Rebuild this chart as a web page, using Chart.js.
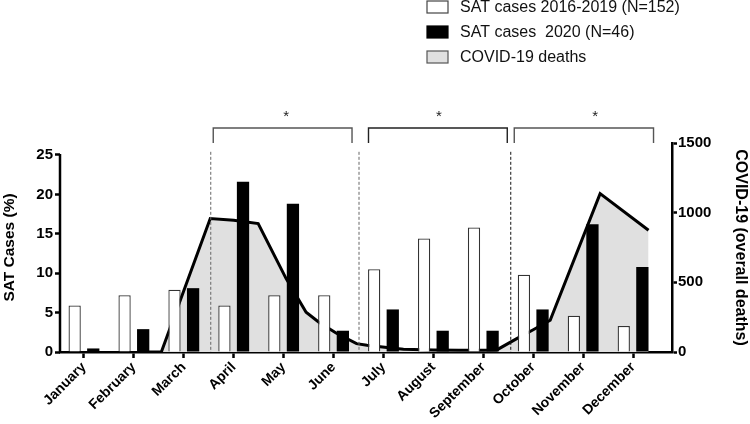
<!DOCTYPE html>
<html>
<head>
<meta charset="utf-8">
<script src="https://cdn.jsdelivr.net/npm/chart.js@4.4.1/dist/chart.umd.min.js"></script>
<style>
  html, body { margin: 0; padding: 0; background: #fff; }
  #wrap { width: 750px; height: 424px; }
</style>
</head>
<body>
<div id="wrap"><canvas id="chartSat" width="750" height="424"></canvas></div>
<script>
/* datos */
const months = ["January", "February", "March", "April", "May", "June",
  "July", "August", "September", "October", "November", "December"];
const satPrevious = [5.9, 7.2, 7.9, 5.9, 7.2, 7.2, 10.5, 14.4, 15.8, 9.8, 4.6, 3.3];
const sat2020 = [0.45, 2.9, 8.1, 21.6, 18.8, 2.7, 5.4, 2.7, 2.7, 5.4, 16.2, 10.8];

// muertes COVID-19: posicion en meses (0 = enero) y total
const deathsMonth = [1.3, 1.55, 2.53, 3.0, 3.49, 4.05, 4.45, 4.7, 5.05, 5.46, 5.67, 6.07, 6.4, 7.0, 7.5, 8.0, 8.27, 8.67, 9.0, 9.34, 10.34, 11.31];
const deathsTotal = [0, 0, 958, 945, 922, 527, 285, 215, 136, 60, 48, 32, 19, 15, 12, 12, 15, 96, 160, 228, 1137, 874];

const leftTicks = [0, 5, 10, 15, 20, 25];
const rightTicks = [0, 500, 1000, 1500];

// corchetes de comparacion (*) y lineas divisorias, en meses
const bracketFrom = [2.59, 5.70, 8.62];
const bracketTo = [5.37, 8.48, 11.41];
const bracketStar = [4.05, 7.11, 10.24];
const dividers = [2.54, 5.51, 8.55];

const FONT = "'Liberation Sans', Arial, sans-serif";
Chart.defaults.font.family = FONT;
Chart.defaults.color = "#000";

const extras = {
  id: "extras",
  afterDraw(chart) {
    const { ctx, chartArea } = chart;
    const x = chart.scales.x;
    const y = chart.scales.y;
    ctx.save();

    // eje izquierdo solo hasta 25
    ctx.strokeStyle = "#000";
    ctx.lineWidth = 2.5;
    ctx.beginPath();
    ctx.moveTo(chartArea.left, y.getPixelForValue(0));
    ctx.lineTo(chartArea.left, y.getPixelForValue(25) - 1);
    ctx.stroke();

    // lineas divisorias
    ctx.lineWidth = 1;
    ctx.setLineDash([3, 2]);
    dividers.forEach((d, i) => {
      ctx.strokeStyle = i === 2 ? "#111" : "#666";
      const px = x.getPixelForValue(d);
      ctx.beginPath();
      ctx.moveTo(px, y.getPixelForValue(25.4));
      ctx.lineTo(px, y.getPixelForValue(0));
      ctx.stroke();
    });
    ctx.setLineDash([]);

    // corchetes
    const top = chartArea.top - 15;
    ctx.lineWidth = 1.4;
    bracketFrom.forEach((b, i) => {
      const x0 = x.getPixelForValue(b);
      const x1 = x.getPixelForValue(bracketTo[i]);
      ctx.strokeStyle = i === 1 ? "#222" : "#555";
      ctx.beginPath();
      ctx.moveTo(x0, chartArea.top);
      ctx.lineTo(x0, top);
      ctx.lineTo(x1, top);
      ctx.lineTo(x1, chartArea.top);
      ctx.stroke();
      ctx.fillStyle = "#222";
      ctx.font = "15px " + FONT;
      ctx.textAlign = "center";
      ctx.textBaseline = "middle";
      ctx.fillText("*", x.getPixelForValue(bracketStar[i]), top - 11);
    });

    // leyenda
    const rows = [7, 32, 57];
    chart.data.datasets.forEach((ds, i) => {
      const cy = rows[i];
      ctx.fillStyle = ds.legendFill;
      ctx.strokeStyle = ds.legendStroke;
      ctx.lineWidth = 1.2;
      ctx.fillRect(427, cy - 6, 21, 12);
      ctx.strokeRect(427, cy - 6, 21, 12);
      ctx.fillStyle = "#111";
      ctx.font = "16px " + FONT;
      ctx.textAlign = "left";
      ctx.textBaseline = "middle";
      ctx.fillText(ds.label, 460, cy + 1);
    });
    ctx.restore();
  },
};

const ctxSat = document.getElementById("chartSat").getContext("2d");

const chartSat = new Chart(ctxSat, {
  type: "bar",
  data: {
    datasets: [
      {
        label: "SAT cases 2016-2019 (N=152)",
        data: satPrevious.map((v, i) => ({ x: i, y: v })),
        backgroundColor: "#fff",
        borderColor: "#333",
        borderWidth: 1.3,
        yAxisID: "y",
        order: 0,
        categoryPercentage: 0.745,
        barPercentage: 0.66,
        legendFill: "#fff",
        legendStroke: "#444",
      },
      {
        label: "SAT cases  2020 (N=46)",
        data: sat2020.map((v, i) => ({ x: i, y: v })),
        backgroundColor: "#000",
        borderWidth: 0,
        yAxisID: "y",
        order: 0,
        categoryPercentage: 0.745,
        barPercentage: 0.66,
        legendFill: "#000",
        legendStroke: "#000",
      },
      {
        type: "line",
        label: "COVID-19 deaths",
        data: deathsMonth.map((m, i) => ({ x: m, y: deathsTotal[i] })),
        borderColor: "#000",
        borderWidth: 3,
        backgroundColor: "#e0e0e0",
        fill: "origin",
        pointRadius: 0,
        tension: 0,
        yAxisID: "y2",
        order: 2,
        legendFill: "#e0e0e0",
        legendStroke: "#555",
      },
    ],
  },
  options: {
    responsive: false,
    animation: false,
    devicePixelRatio: 1,
    layout: { padding: { top: 143, left: 0, right: 0, bottom: 0 } },
    plugins: {
      legend: { display: false },
      tooltip: { enabled: false },
    },
    scales: {
      x: {
        type: "linear",
        min: -0.48,
        max: 11.78,
        offset: false,
        bounds: "data",
        afterBuildTicks: (scale) => {
          scale.ticks = months.map((m, i) => ({ value: i }));
        },
        afterFit: (scale) => { scale.height = 72; },
        grid: { offset: false, drawOnChartArea: false, tickLength: 6, tickColor: "#000", tickWidth: 2.5 },
        border: { color: "#000", width: 2.5 },
        ticks: {
          autoSkip: false,
          minRotation: 45,
          maxRotation: 45,
          padding: 1,
          font: { size: 14, weight: "bold" },
          callback: (v) => months[v],
        },
      },
      y: {
        position: "left",
        min: 0,
        max: 26.52,
        afterBuildTicks: (scale) => {
          scale.ticks = leftTicks.map((v) => ({ value: v }));
        },
        afterFit: (scale) => { scale.width = 60; },
        grid: { drawOnChartArea: false, tickLength: 5, tickColor: "#000", tickWidth: 2.5 },
        border: { display: false },
        ticks: { padding: 2, font: { size: 15, weight: "bold" }, callback: (v) => String(v) },
        title: {
          display: true,
          text: "SAT Cases (%)",
          padding: 0,
          font: { size: 15.5, weight: "bold" },
        },
      },
      y2: {
        position: "right",
        min: 0,
        max: 1500,
        afterBuildTicks: (scale) => {
          scale.ticks = rightTicks.map((v) => ({ value: v }));
        },
        afterFit: (scale) => { scale.width = 78; },
        grid: { drawOnChartArea: false, tickLength: 5, tickColor: "#000", tickWidth: 2.5 },
        border: { color: "#000", width: 2.5 },
        ticks: { padding: 1, font: { size: 15, weight: "bold" }, callback: (v) => String(v) },
        title: {
          display: true,
          text: "COVID-19 (overall deaths)",
          padding: 0,
          font: { size: 16, weight: "bold" },
        },
      },
    },
  },
  plugins: [extras],
});
</script>
</body>
</html>
